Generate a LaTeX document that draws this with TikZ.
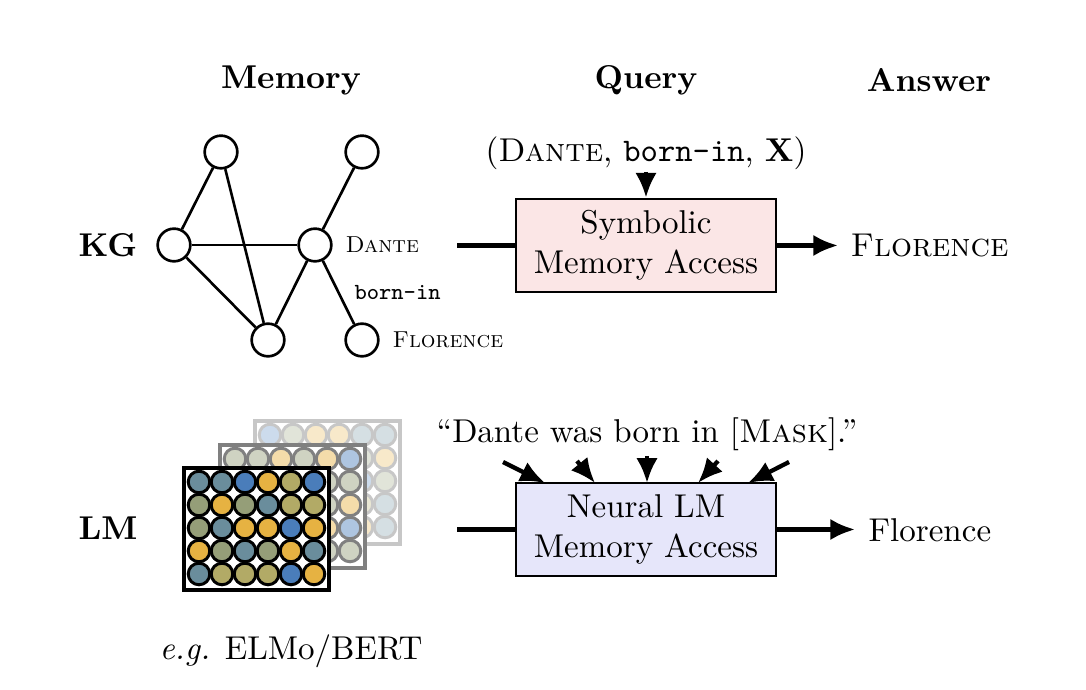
\documentclass[tikz,border=0pt]{standalone}
\usetikzlibrary{arrows.meta}
\definecolor{cB}{HTML}{4A7DBA}
\definecolor{cT}{HTML}{6A8D9C}
\definecolor{cG}{HTML}{E6B242}
\definecolor{cO}{HTML}{B2AA66}
\definecolor{cS}{HTML}{959E78}
\definecolor{pinkfill}{HTML}{FBE6E6}
\definecolor{bluefill}{HTML}{E6E6FA}
\begin{document}
\begin{tikzpicture}[x=0.303pt,y=-0.303pt,
  gnode/.style={circle,draw,line width=0.8pt,minimum size=9.9pt,inner sep=0pt},
  gedge/.style={line width=0.8pt},
  accbox/.style={draw,line width=0.8pt,minimum width=78.8pt,minimum height=28.2pt,align=center,inner sep=0pt},
  flow/.style={line width=1.3pt},
  flowarr/.style={line width=1.3pt,-{Latex[length=7.5pt,width=6.5pt]}},
  hdr/.style={font=\bfseries,anchor=base},
  lbl/.style={anchor=base west,inner sep=0pt},
  cell/.style={line width=0.9pt}]
\useasboundingbox (0,0) rectangle (1086,690);

% headers
\node[hdr] (hmem) at (291,89) {Memory};
\node[hdr] (hq) at (646,89) {Query};
\node[hdr] (hans) at (929,92) {Answer};
\node[hdr] (kg) at (108,257) {KG};
\node[hdr] (lm) at (108,540) {LM};

% knowledge graph
\node[gnode] (n1) at (221,152) {};
\node[gnode] (n2) at (362,152) {};
\node[gnode] (n3) at (174,245) {};
\node[gnode] (n4) at (315,245) {};
\node[gnode] (n5) at (268,340) {};
\node[gnode] (n6) at (362,340) {};
\draw[gedge] (n3) -- (n1);
\draw[gedge] (n1) -- (n5);
\draw[gedge] (n3) -- (n4);
\draw[gedge] (n3) -- (n5);
\draw[gedge] (n5) -- (n4);
\draw[gedge] (n4) -- (n2);
\draw[gedge] (n4) -- (n6);
\node[lbl,font=\scriptsize] (ldante) at (345,253) {\textsc{Dante}};
\node[lbl,font=\scriptsize] (lborn) at (354,300) {\texttt{born-in}};
\node[lbl,font=\scriptsize] (lflor) at (392,348) {\textsc{Florence}};

% symbolic access
\node[accbox,fill=pinkfill] (sym) at (646,245.5) {Symbolic\\Memory Access};
\node[anchor=base,inner sep=0pt] (query) at (646,162) {(\textsc{Dante}, \texttt{born-in}, $\mathbf{X}$)};
\coordinate (qa) at (646,172);
\draw[flowarr] (qa) -- (sym.north);
\coordinate (kin) at (457,245.5);
\draw[flow] (kin) -- (sym.west);
\node[anchor=west,inner sep=0pt] (ans1) at (850,246) {\textsc{Florence}};
\coordinate (a1) at (838,245.5);
\draw[flowarr] (sym.east) -- (a1);

% neural access
\node[accbox,fill=bluefill] (neu) at (646,529.5) {Neural LM\\Memory Access};
\node[anchor=base,inner sep=0pt] (quote) at (647,443) {``Dante was born in [\textsc{Mask}].''};
\coordinate (lin) at (457,529.5);
\draw[flow] (lin) -- (neu.west);
\node[anchor=west,inner sep=0pt] (ans2) at (868,530) {Florence};
\coordinate (a2) at (855,529.5);
\draw[flowarr] (neu.east) -- (a2);
\coordinate (t1) at (503,462);
\coordinate (h1) at (545,483);
\coordinate (t2) at (577,461);
\coordinate (h2) at (595,483);
\coordinate (t3) at (647,456);
\coordinate (h3) at (647,483);
\coordinate (t4) at (718,461);
\coordinate (h4) at (698,483);
\coordinate (t5) at (789,462);
\coordinate (h5) at (748,483);
\draw[flowarr] (t1) -- (h1);
\draw[flowarr] (t2) -- (h2);
\draw[flowarr] (t3) -- (h3);
\draw[flowarr] (t4) -- (h4);
\draw[flowarr] (t5) -- (h5);

% embedding matrices
% back layer
\fill[white] (255,421) rectangle (400,544);
\foreach \row [count=\r from 0] in {{B,S,G,G,T,T},{O,S,B,T,S,G},{G,T,O,S,B,S},{S,B,T,G,O,T},{T,G,S,B,G,T}}{
  \foreach \c [count=\k from 0] in \row {
    \filldraw[cell,fill=c\c!28!white,draw=black!22] (270+23*\k,435+23*\r) circle (3.27pt);
  }
}
\draw[black!22,line width=1.2pt] (255,421) rectangle (400,544);
% middle layer
\fill[white] (220,445) rectangle (365,568);
\foreach \row [count=\r from 0] in {{S,S,G,S,G,B},{T,O,S,G,S,S},{B,G,O,T,S,G},{O,T,G,B,G,B},{G,S,T,O,S,S}}{
  \foreach \c [count=\k from 0] in \row {
    \filldraw[cell,fill=c\c!45!white,draw=black!50] (235+23*\k,459+23*\r) circle (3.27pt);
  }
}
\draw[black!50,line width=1.2pt] (220,445) rectangle (365,568);
% front layer
\fill[white] (184,468) rectangle (329,590);
\foreach \row [count=\r from 0] in {{T,T,B,G,O,B},{S,G,S,T,O,O},{S,T,G,G,B,G},{G,S,T,S,G,T},{T,O,O,O,B,G}}{
  \foreach \c [count=\k from 0] in \row {
    \filldraw[cell,fill=c\c,draw=black] (199+23*\k,482+23*\r) circle (3.27pt);
  }
}
\draw[black,line width=1.2pt] (184,468) rectangle (329,590);

\node[anchor=base,inner sep=0pt] (elmo) at (291,660) {\textit{e.g.} ELMo/BERT};
\end{tikzpicture}
\end{document}
